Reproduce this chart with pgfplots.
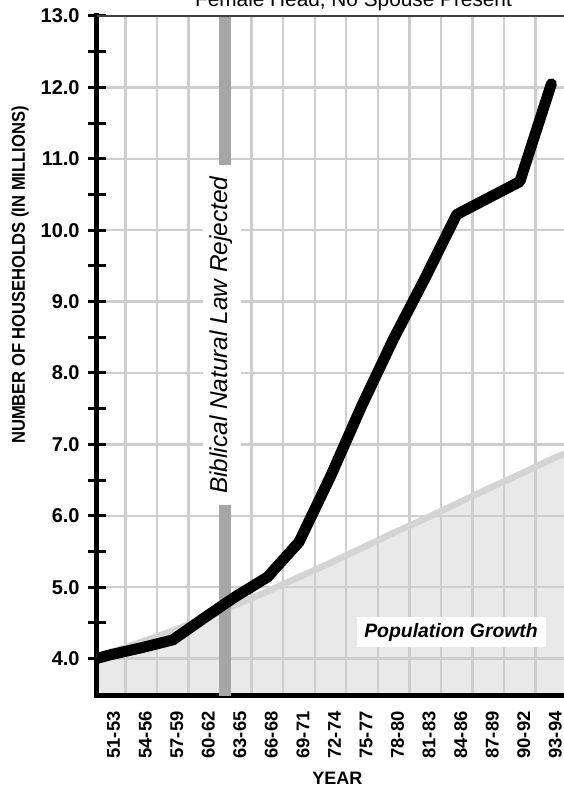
\documentclass[border=0pt]{standalone}
\usepackage{fontspec}
\setmainfont{Liberation Sans}
\newfontfamily\narrowsans[FakeStretch=0.9]{Liberation Sans}
\usepackage{pgfplots}
\usepackage{pgfplotstable}
\pgfplotsset{compat=1.18}
\definecolor{fillgray}{RGB}{233,233,233}
\definecolor{popgray}{RGB}{212,212,212}
\definecolor{gridgray}{RGB}{206,206,206}
\definecolor{bargray}{RGB}{166,166,166}

\pgfplotstableread{
x y
-0.41 4.00
0 4.05
1 4.15
2 4.26
3 4.57
4 4.87
5 5.14
6 5.63
7 6.55
8 7.55
9 8.48
10 9.33
11 10.22
12 10.45
13 10.68
14 12.05
}\households

\pgfplotstableread{
x y
-0.41 4.02
0 4.08
1 4.23
2 4.39
3 4.56
4 4.75
5 4.94
6 5.14
7 5.34
8 5.55
9 5.76
10 5.96
11 6.17
12 6.38
13 6.58
14 6.79
14.40 6.87
}\population

\pgfplotstableread{
x y
-0.41 4.02
0 4.08
1 4.23
2 4.39
3 4.56
4 4.75
5 4.94
6 5.14
7 5.34
8 5.55
9 5.76
10 5.96
11 6.17
12 6.38
13 6.58
14 6.79
14.40 6.87
14.40 3.475
-0.41 3.475
}\popfill

\begin{document}
\begin{tikzpicture}
\begin{axis}[
  set layers,
  scale only axis,
  width=233.65pt, height=340pt,
  xmin=-0.41, xmax=14.40, ymin=3.475, ymax=13,
  axis x line*=bottom, axis y line*=left,
  axis line style={line width=2.5pt, black, line cap=rect},
  xtick={0,...,14},
  xticklabels={51-53,54-56,57-59,60-62,63-65,66-68,69-71,72-74,75-77,78-80,81-83,84-86,87-89,90-92,93-94},
  minor xtick={-0.5,0.5,...,13.5},
  xminorgrids=true, xmajorgrids=false,
  ytick={4,...,13},
  yticklabels={4.0,5.0,6.0,7.0,8.0,9.0,10.0,11.0,12.0,13.0},
  minor ytick={4.5,5.5,...,12.5},
  ymajorgrids=true, yminorgrids=false,
  major grid style={line width=1.2pt, gridgray},
  minor grid style={line width=1.2pt, gridgray},
  tick align=center,
  major tick length=9pt, minor tick length=9pt,
  xtick style={draw=none},
  ytick style={line width=1.5pt, black},
  xticklabel style={font=\fontsize{9.2}{10}\selectfont\bfseries, xshift=2pt, yshift=-3pt, rotate=90, anchor=east, inner sep=0pt},
  yticklabel style={font=\fontsize{10}{12}\selectfont\bfseries, anchor=east, inner sep=0pt, xshift=-3.85pt},
  xlabel={YEAR},
  every axis x label/.style={at={(axis description cs:0.515,0)}, anchor=base, yshift=-44pt, font=\fontsize{9}{10}\selectfont\bfseries},
  ylabel={NUMBER OF HOUSEHOLDS (IN MILLIONS)},
  every axis y label/.style={at={(axis description cs:-0.164,0.619)}, rotate=90, anchor=center, font=\narrowsans\fontsize{9.2}{10}\selectfont\bfseries},
  title={Female Head, No Spouse Present},
  every axis title/.style={at={(axis description cs:0.5495,1)}, anchor=base, yshift=4.75pt, font=\fontsize{10.4}{12}\selectfont},
]
\addplot[draw=none, fill=fillgray, on layer=axis background] table {\popfill};
\addplot[popgray, line width=3.25pt] table {\population};
\addplot[bargray, line width=6pt] coordinates {(3.645,3.475) (3.645,13)};
\addplot[black, line width=5.5pt, line join=round, line cap=round] table {\households};
\node[fill=white, rotate=90, inner sep=0pt, minimum width=170pt, minimum height=19pt,
      font=\fontsize{12.2}{14}\selectfont\itshape] at (axis cs:3.55,8.53) {Biblical Natural Law Rejected};
\node[fill=white, inner sep=0pt, minimum width=94.5pt, minimum height=15pt,
      font=\fontsize{9.7}{11}\selectfont\bfseries\itshape] at (axis cs:10.82,4.365) {Population Growth};
\draw[line width=0.6pt, black!75] (rel axis cs:0,1) -- (rel axis cs:1,1);
\coordinate (bl) at (rel axis cs:0,0);
\coordinate (tr) at (rel axis cs:1,1);
\end{axis}
\pgfresetboundingbox
\path[use as bounding box] ([xshift=-48.35pt,yshift=-47pt]bl) rectangle ([yshift=8pt]tr);
\end{tikzpicture}
\end{document}
